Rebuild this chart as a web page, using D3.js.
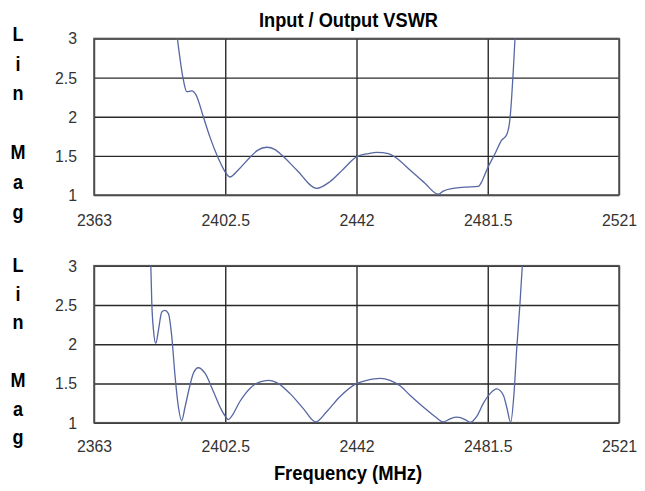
<!DOCTYPE html>
<html>
<head>
<meta charset="utf-8">
<script src="https://cdn.jsdelivr.net/npm/d3@7"></script>
<style>
  body { margin: 0; background: #fff; }
  svg { display: block; }
  .narrow { font-family: "Liberation Sans Narrow", "Arial Narrow", "Liberation Sans", Arial, sans-serif; }
  .tick line { stroke: #2a2a2a; stroke-width: 1.4; }
  .tick text { fill: #333; font-size: 17px; }
  .domain { display: none; }
</style>
</head>
<body>
<svg id="vswr" width="645" height="491"></svg>
<script>
// chart text
var title = "Input / Output VSWR",
  xLabel = "Frequency (MHz)",
  yLabel = "Lin Mag";

// axis ticks
var xTicks = [2363, 2402.5, 2442, 2481.5, 2521],
  yTicks = [1, 1.5, 2, 2.5, 3];

// input VSWR (upper trace)
var freqTop = [2388.1, 2389.9, 2390.9, 2392.4, 2393.7, 2395.9, 2397.9, 2400.4, 2402.4, 2403.9,
  2406.4, 2409.9, 2412.2, 2415.0, 2417.5, 2419.5, 2424.0, 2430.0, 2434.0, 2438.0,
  2442.1, 2445.6, 2448.1, 2451.6, 2454.1, 2458.1, 2462.6, 2466.6, 2468.1, 2471.1,
  2474.6, 2478.7, 2479.7, 2481.2, 2483.7, 2485.7, 2487.2, 2488.2, 2488.7, 2489.2, 2489.7];
var vswrTop = [3.0, 2.47, 2.32, 2.33, 2.28, 2.0, 1.74, 1.47, 1.30, 1.23,
  1.32, 1.48, 1.57, 1.61, 1.58, 1.51, 1.32, 1.085, 1.17, 1.33,
  1.49, 1.53, 1.545, 1.53, 1.47, 1.32, 1.15, 1.01, 1.05, 1.085,
  1.10, 1.11, 1.17, 1.32, 1.53, 1.70, 1.77, 1.98, 2.25, 2.60, 3.0];

// output VSWR (lower trace)
var freqBottom = [2380.1, 2380.4, 2380.9, 2381.6, 2382.4, 2383.4, 2384.3, 2385.4, 2386.4, 2387.4,
  2388.4, 2389.4, 2390.4, 2391.9, 2392.9, 2394.4, 2396.4, 2398.9, 2401.4, 2402.7,
  2403.4, 2404.4, 2406.9, 2410.0, 2413.0, 2415.5, 2418.0, 2422.0, 2426.0, 2429.7,
  2433.0, 2437.0, 2442.1, 2445.1, 2449.1, 2452.1, 2455.1, 2458.1, 2462.1, 2465.6,
  2468.1, 2470.2, 2472.2, 2474.7, 2476.2, 2478.2, 2480.2, 2482.2, 2484.2, 2486.2,
  2487.2, 2488.4, 2489.4, 2490.2, 2491.2, 2491.9];
var vswrBottom = [3.0, 2.52, 2.18, 2.01, 2.18, 2.41, 2.43, 2.39, 2.10, 1.59,
  1.20, 1.025, 1.20, 1.48, 1.63, 1.70, 1.63, 1.40, 1.16, 1.07,
  1.04, 1.08, 1.27, 1.44, 1.52, 1.54, 1.51, 1.37, 1.18, 1.01,
  1.14, 1.33, 1.50, 1.54, 1.565, 1.54, 1.47, 1.35, 1.20, 1.08,
  1.01, 1.05, 1.07, 1.04, 1.005, 1.08, 1.25, 1.37, 1.43, 1.35,
  1.20, 1.005, 1.37, 1.93, 2.52, 3.0];

var svg = d3.select("#vswr").attr("class", "narrow"),
  left = 94, right = 619;

var x = d3.scaleLinear().domain([2363, 2521]).range([left, right]);

var panels = [
  { id: "top", freq: freqTop, vswr: vswrTop, top: 38.5, bottom: 195, pad: 19, letterY: 41, letterStep: 29.6 },
  { id: "bottom", freq: freqBottom, vswr: vswrBottom, top: 265.7, bottom: 422.7, pad: 17, letterY: 272, letterStep: 28.7 }
];

// the reference uses a narrow face; squeeze the regular one to match
function squeeze(sel, k) {
  sel.each(function () {
    var w = this.getComputedTextLength();
    d3.select(this).attr("textLength", w * k).attr("lengthAdjust", "spacingAndGlyphs");
  });
}

panels.forEach(function (p) {
  var y = d3.scaleLinear().domain([1, 3]).range([p.bottom, p.top]);
  var g = svg.append("g");

  // horizontal grid + y labels
  g.append("g")
    .attr("transform", "translate(" + left + ",0)")
    .call(d3.axisLeft(y).tickValues(yTicks).tickSize(-(right - left)).tickPadding(17)
      .tickFormat(function (d) { return String(d); }));

  // vertical grid + x labels
  g.append("g")
    .attr("transform", "translate(0," + p.bottom + ")")
    .call(d3.axisBottom(x).tickValues(xTicks).tickSize(-(p.bottom - p.top)).tickPadding(p.pad)
      .tickFormat(function (d) { return String(d); }));

  g.append("rect")
    .attr("x", left).attr("y", p.top)
    .attr("width", right - left).attr("height", p.bottom - p.top)
    .attr("fill", "none").attr("stroke", "#555").attr("stroke-width", 1.6);

  g.append("clipPath").attr("id", "clip-" + p.id)
    .append("rect")
    .attr("x", left).attr("y", p.top - 1)
    .attr("width", right - left).attr("height", p.bottom - p.top + 2);

  var line = d3.line()
    .x(function (d, i) { return x(p.freq[i]); })
    .y(function (d) { return y(d); })
    .curve(d3.curveMonotoneX);

  g.append("path")
    .attr("clip-path", "url(#clip-" + p.id + ")")
    .attr("d", line(p.vswr))
    .attr("fill", "none")
    .attr("stroke", "#5667a3")
    .attr("stroke-width", 1.3);

  // stacked "Lin Mag" letters, the space leaves a gap
  g.selectAll(".ylab")
    .data(yLabel.split(""))
    .enter().append("text")
    .attr("class", "ylab")
    .attr("x", 18)
    .attr("y", function (d, i) { return p.letterY + i * p.letterStep; })
    .attr("text-anchor", "middle")
    .attr("font-size", 20)
    .attr("font-weight", "bold")
    .text(function (d) { return d; })
    .call(squeeze, 0.9);
});

svg.selectAll(".tick text").call(squeeze, 0.93);

svg.append("text")
  .attr("x", 348.5).attr("y", 27)
  .attr("text-anchor", "middle")
  .attr("font-size", 20).attr("font-weight", "bold")
  .text(title)
  .call(squeeze, 0.91);

svg.append("text")
  .attr("x", 348).attr("y", 480)
  .attr("text-anchor", "middle")
  .attr("font-size", 20).attr("font-weight", "bold")
  .text(xLabel)
  .call(squeeze, 0.92);
</script>
</body>
</html>
